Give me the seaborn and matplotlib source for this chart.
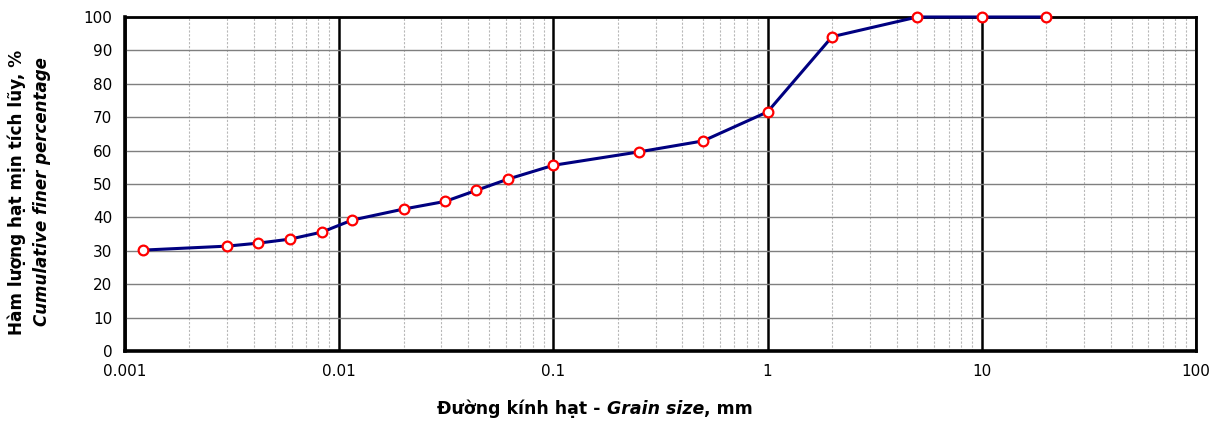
import matplotlib
matplotlib.use("Agg")
import matplotlib.pyplot as plt
import matplotlib.ticker as mticker
import seaborn as sns
import pandas as pd

grain_size_mm = [0.00121, 0.003, 0.0042, 0.0059, 0.0083, 0.0115, 0.02, 0.0313,
                 0.0437, 0.0616, 0.1, 0.25, 0.5, 1.0, 2.0, 5.0, 10.0, 20.0]
finer_pct = [30.2, 31.4, 32.3, 33.5, 35.6, 39.2, 42.5, 44.8,
             48.1, 51.5, 55.6, 59.6, 62.9, 71.6, 94.1, 100.0, 100.0, 100.0]
x_ticks = [0.001, 0.01, 0.1, 1, 10, 100]
x_tick_labels = ["0.001", "0.01", "0.1", "1", "10", "100"]
y_ticks = list(range(0, 101, 10))

df = pd.DataFrame({"d": grain_size_mm, "p": finer_pct})

sns.set_style("white")
plt.rcParams["font.family"] = ["DejaVu Sans"]
plt.rcParams["text.color"] = "black"
plt.rcParams["xtick.color"] = "black"
plt.rcParams["ytick.color"] = "black"
plt.rcParams["xtick.labelcolor"] = "black"
plt.rcParams["ytick.labelcolor"] = "black"

W, H = 1218, 421
fig = plt.figure(figsize=(W / 100, H / 100), dpi=100)
ax = fig.add_axes([125 / W, 1 - 351 / H, (1196 - 125) / W, (351 - 17) / H])

ax.set_xscale("log")
ax.set_xlim(0.001, 100)
ax.set_ylim(0, 100)

# grid
ax.yaxis.grid(True, which="major", color="#7f7f7f", lw=1.0, zorder=0)
ax.xaxis.grid(True, which="minor", color="#b8b8b8", lw=0.8, ls=(0, (2, 1.5)), zorder=0)
ax.xaxis.grid(True, which="major", color="black", lw=1.8, zorder=0.5)
ax.set_axisbelow(True)

sns.lineplot(data=df, x="d", y="p", ax=ax, color="#000080", lw=2.2,
             marker="o", markersize=7, markerfacecolor="white",
             markeredgecolor="red", markeredgewidth=1.6, zorder=3, clip_on=False)

ax.set_xticks(x_ticks)
ax.set_xticklabels(x_tick_labels)
ax.xaxis.set_minor_locator(mticker.LogLocator(base=10, subs=range(2, 10), numticks=20))
ax.xaxis.set_minor_formatter(mticker.NullFormatter())
ax.set_yticks(y_ticks)
ax.yaxis.set_minor_locator(mticker.MultipleLocator(2))

ax.tick_params(axis="both", which="major", direction="out", length=5, width=1.5,
               labelsize=11, colors="black", pad=4)
ax.tick_params(axis="both", which="minor", direction="in", length=4, width=1.2, color="black")

for s in ["top", "right"]:
    ax.spines[s].set_linewidth(2.0)
    ax.spines[s].set_color("black")
for s in ["left", "bottom"]:
    ax.spines[s].set_linewidth(2.6)
    ax.spines[s].set_color("black")

ax.set_xlabel("")
ax.set_ylabel("")

# y label (two lines)
yc = 1 - 192 / H
fig.text(17 / W, yc, "Hàm lượng hạt mịn tích lũy, %", rotation=90, ha="center",
         va="center", fontsize=12.2, fontweight="bold", color="black")
fig.text(42 / W, yc, "Cumulative finer percentage", rotation=90, ha="center",
         va="center", fontsize=12, fontweight="bold", fontstyle="italic", color="black")

# x label, mixed style
parts = [("Đường kính hạt - ", "normal"), ("Grain size", "italic"), (", mm", "normal")]
fig.canvas.draw()
r = fig.canvas.get_renderer()
texts = []
for s, st in parts:
    t = fig.text(0, 1 - 409 / H, s, fontsize=12.5, fontweight="bold", fontstyle=st,
                 ha="left", va="center", color="black")
    texts.append(t)
widths = [t.get_window_extent(r).width for t in texts]
total = sum(widths)
x0 = 595 - total / 2
for t, w in zip(texts, widths):
    t.set_x(x0 / W)
    x0 += w

fig.savefig("out.png", dpi=100)
